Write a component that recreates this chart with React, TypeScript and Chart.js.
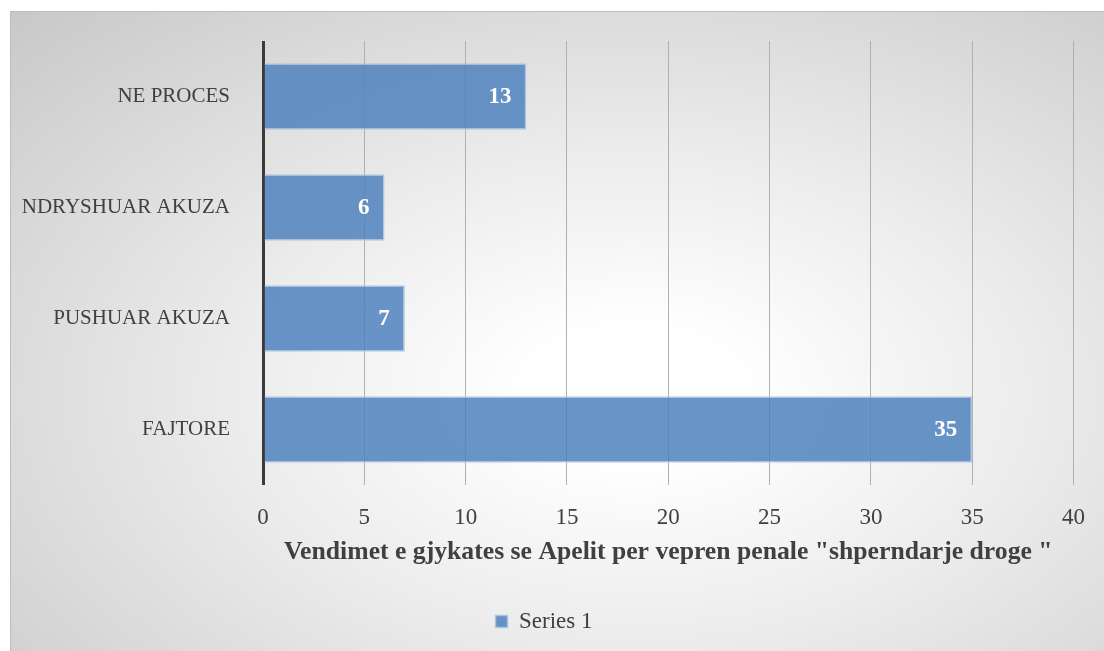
import React, { useEffect, useRef } from "react";
import { Chart, registerables } from "chart.js";

Chart.register(...registerables);

const categories = ["NE PROCES", "NDRYSHUAR AKUZA", "PUSHUAR AKUZA", "FAJTORE"];
const values = [13, 6, 7, 35];
const seriesName = "Series 1";
const axisTitle = 'Vendimet e gjykates se Apelit per vepren penale "shperndarje droge "';
const xMin = 0;
const xMax = 40;
const xStep = 5;

const FONT = "'Liberation Serif', 'Times New Roman', serif";
const TEXT = "#404040";

const dataLabelPlugin = {
  id: "insideEndLabels",
  afterDatasetsDraw(chart: any) {
    const ctx = chart.ctx;
    const meta = chart.getDatasetMeta(0);
    ctx.save();
    ctx.font = `bold 23px ${FONT}`;
    ctx.fillStyle = "#ffffff";
    ctx.textAlign = "right";
    ctx.textBaseline = "middle";
    meta.data.forEach((el: any, i: number) => {
      ctx.fillText(String(values[i]), el.x - 15, el.y + 1);
    });
    ctx.restore();
  },
};

export default function App() {
  const ref = useRef<HTMLCanvasElement | null>(null);

  useEffect(() => {
    document.body.style.margin = "0";
    const canvas = ref.current!;
    const chart = new Chart(canvas, {
      type: "bar",
      data: {
        labels: categories,
        datasets: [
          {
            label: seriesName,
            data: values,
            backgroundColor: "rgba(79,129,189,0.85)",
            borderColor: "rgba(170,196,228,0.9)",
            borderWidth: 1.5,
            categoryPercentage: 0.6,
            barPercentage: 1,
          },
        ],
      },
      options: {
        indexAxis: "y",
        responsive: false,
        animation: false,
        layout: { padding: { top: 30, right: 26, left: 0, bottom: 8 } },
        plugins: {
          tooltip: { enabled: false },
          legend: {
            position: "bottom",
            labels: {
              font: { family: FONT, size: 23 },
              color: TEXT,
              boxWidth: 12,
              boxHeight: 12,
              padding: 10,
            },
          },
        },
        scales: {
          x: {
            min: xMin,
            max: xMax,
            ticks: {
              stepSize: xStep,
              font: { family: FONT, size: 23 },
              color: TEXT,
              padding: 19,
            },
            grid: {
              drawTicks: false,
              color: (c: any) => (c.tick && c.tick.value === 0 ? "#3a3a3a" : "#b0b0b0"),
              lineWidth: (c: any) => (c.tick && c.tick.value === 0 ? 3 : 1),
            },
            border: { display: false },
            title: {
              display: true,
              text: axisTitle,
              font: { family: FONT, size: 25.7, weight: "bold" },
              color: TEXT,
              padding: { top: 0, bottom: 32 },
            },
            afterFit: (scale: any) => {
              scale.height = 115;
            },
          },
          y: {
            ticks: {
              font: { family: FONT, size: 21 },
              color: TEXT,
              padding: 2,
            },
            grid: {
              display: true,
              drawOnChartArea: false,
              drawTicks: true,
              tickLength: 31,
              color: "rgba(0,0,0,0)",
            },
            border: { display: false },
            afterFit: (scale: any) => {
              scale.width = 253;
            },
          },
        },
      },
      plugins: [dataLabelPlugin],
    } as any);
    return () => chart.destroy();
  }, []);

  return (
    <div style={{ position: "fixed", left: 0, top: 0, width: 1104, height: 651, background: "#ffffff" }}>
      <div
        style={{
          position: "absolute",
          left: 10,
          top: 11,
          width: 1094,
          height: 640,
          boxSizing: "border-box",
          borderTop: "1px solid #bdbdbd",
          borderLeft: "1px solid #bdbdbd",
          background:
            "radial-gradient(ellipse farthest-corner at 57% 60%, #ffffff 0%, #ffffff 12%, #ececec 45%, #c8c8c8 100%)",
        }}
      >
        <canvas ref={ref} width={1094} height={640} style={{ position: "absolute", left: -1, top: -1, width: 1094, height: 640 }} />
      </div>
    </div>
  );
}
